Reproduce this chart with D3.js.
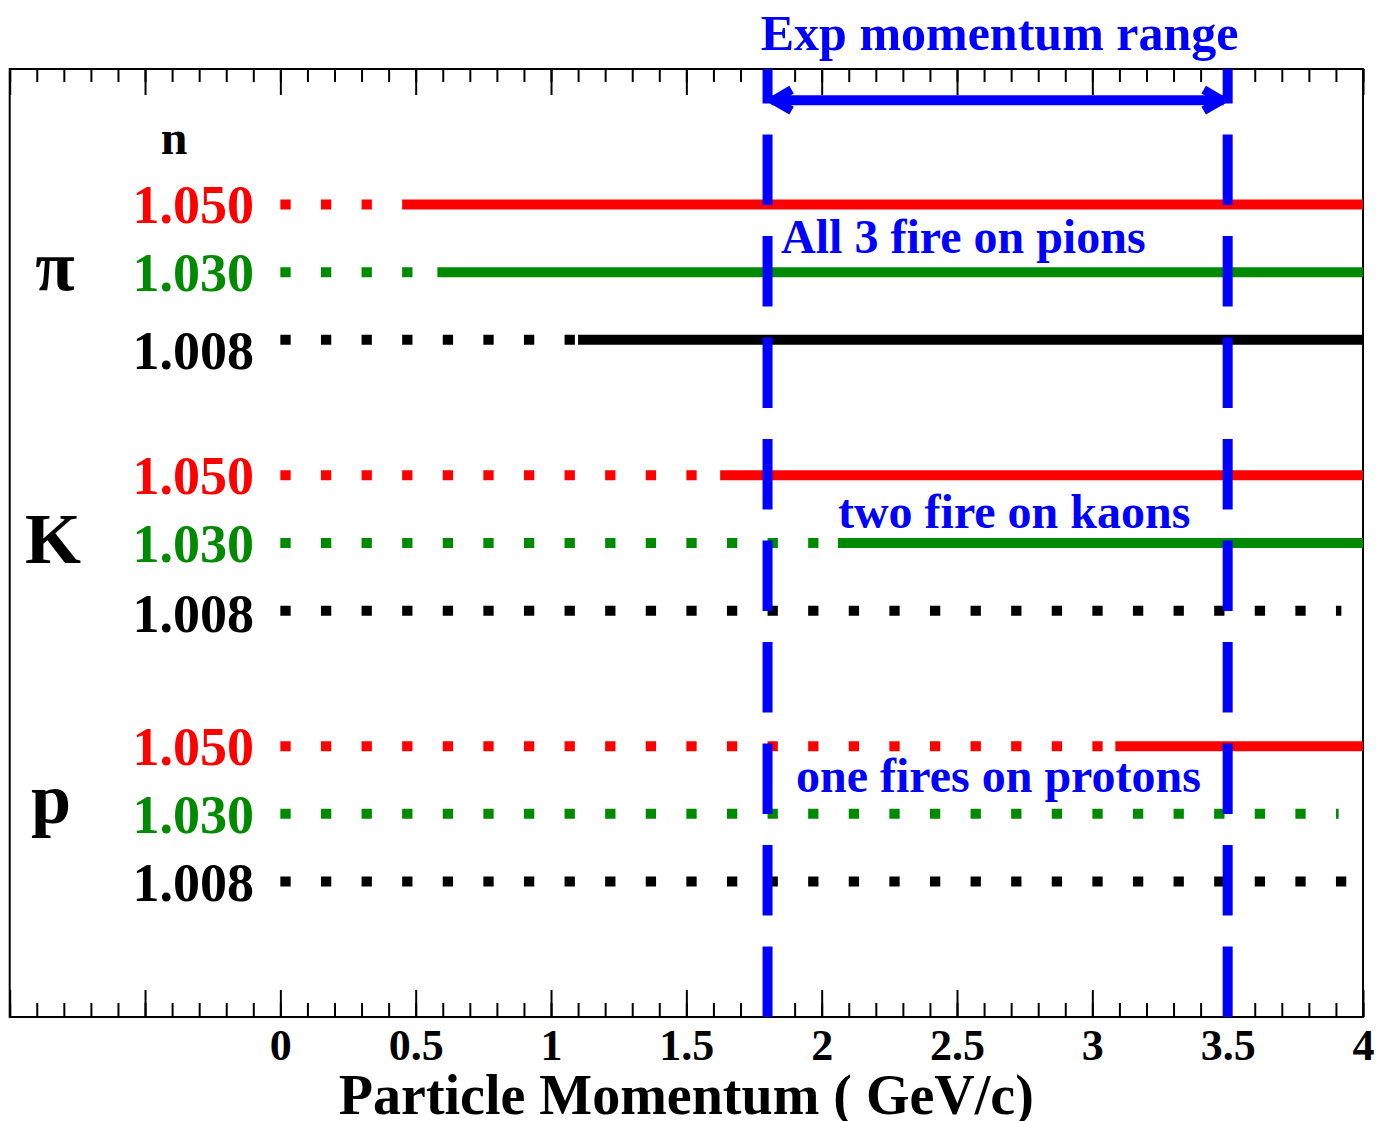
<!DOCTYPE html>
<html>
<head>
<meta charset="utf-8">
<script src="https://cdn.jsdelivr.net/npm/d3@7"></script>
<style>
  html, body { margin: 0; padding: 0; background: #fff; }
  svg { display: block; }
  text { font-family: "Liberation Serif", "Times New Roman", serif; font-weight: bold; }
</style>
</head>
<body>
<script>
// Cherenkov radiator thresholds for three refractive indices, per particle.
const particles = ["π", "K", "p"];
const indices = ["1.050", "1.030", "1.008"];
const indexColors = ["#ff0000", "#008a00", "#000000"];

// vertical level of each particle group's rows (n = 1.050, 1.030, 1.008)
const pionRows = [12, 11, 10];
const kaonRows = [8, 7, 6];
const protonRows = [4, 3, 2];

// momentum (GeV/c) where the radiator starts firing; null = never below 4 GeV/c
const pionOnset = [0.45, 0.58, 1.10];
const kaonOnset = [1.625, 2.06, null];
const protonOnset = [3.085, null, null];

// end of the below-threshold dotted trace when there is no onset
const kaonDotEnd = [null, null, 3.92];
const protonDotEnd = [null, 3.91, 3.95];

// experimental momentum range
const expRange = [1.8, 3.5];
const expArrowLevel = 13.54;

// annotations
const notes = [
  { text: "All 3 fire on pions", p: 1.85, level: 11.28 },
  { text: "two fire on kaons", p: 2.06, level: 7.22 },
  { text: "one fires on protons", p: 1.905, level: 3.33 }
];

// axis ticks
const majorTicks = [-1, -0.5, 0, 0.5, 1, 1.5, 2, 2.5, 3, 3.5, 4];
const tickLabels = ["0", "0.5", "1", "1.5", "2", "2.5", "3", "3.5", "4"];
const minorTicks = d3.range(-10, 41).map(d => d / 10);

const W = 1386, H = 1121;
const svg = d3.select("body").append("svg").attr("width", W).attr("height", H);

const x = d3.scaleLinear().domain([-1, 4]).range([9.7, 1363]);
const y = d3.scaleLinear().domain([0, 14]).range([1017, 69]);

// assemble rows
const groups = [
  { name: particles[0], rows: pionRows, onset: pionOnset, dotEnd: [null, null, null], labelShift: [0, 0, 10] },
  { name: particles[1], rows: kaonRows, onset: kaonOnset, dotEnd: kaonDotEnd, labelShift: [0, 0, 2] },
  { name: particles[2], rows: protonRows, onset: protonOnset, dotEnd: protonDotEnd, labelShift: [0, 0, 0] }
];
const rows = [];
groups.forEach(g => g.rows.forEach((lvl, i) => rows.push({
  level: lvl, label: indices[i], color: indexColors[i],
  onset: g.onset[i], dotEnd: g.dotEnd[i], shift: g.labelShift[i]
})));

// frame
svg.append("rect")
  .attr("x", x(-1)).attr("y", y(14))
  .attr("width", x(4) - x(-1)).attr("height", y(0) - y(14))
  .attr("fill", "none").attr("stroke", "#000").attr("stroke-width", 2);

// bottom axis: minor + major ticks pointing inward
const bottomAxis = svg.append("g").attr("transform", `translate(0,${y(0)})`);
bottomAxis.append("g").call(d3.axisBottom(x).tickValues(minorTicks).tickSize(-14).tickFormat(""))
  .call(g => g.select(".domain").remove());
bottomAxis.append("g").call(d3.axisBottom(x).tickValues(majorTicks).tickSize(-27)
    .tickFormat(d => d >= 0 ? tickLabels[Math.round(d * 2)] : ""))
  .call(g => g.select(".domain").remove())
  .call(g => g.selectAll("text").attr("y", 43).attr("dy", 0)
    .style("font-family", "'Liberation Serif', serif").style("font-weight", "bold")
    .style("font-size", "44px").attr("fill", "#000"));
bottomAxis.selectAll(".tick line").attr("stroke", "#000").attr("stroke-width", 2);

// top axis: ticks only
const topAxis = svg.append("g").attr("transform", `translate(0,${y(14)})`);
topAxis.append("g").call(d3.axisTop(x).tickValues(minorTicks).tickSize(-13).tickFormat(""))
  .call(g => g.select(".domain").remove());
topAxis.append("g").call(d3.axisTop(x).tickValues(majorTicks).tickSize(-26).tickFormat(""))
  .call(g => g.select(".domain").remove());
topAxis.selectAll(".tick line").attr("stroke", "#000").attr("stroke-width", 2);

// dotted traces (below threshold) and solid traces (above threshold)
const lines = svg.append("g");
rows.forEach(r => {
  const end = r.onset !== null ? r.onset : r.dotEnd;
  lines.append("line")
    .attr("x1", x(0)).attr("x2", x(end))
    .attr("y1", y(r.level)).attr("y2", y(r.level))
    .attr("stroke", r.color).attr("stroke-width", 10)
    .attr("stroke-dasharray", "10.3,30.3");
  if (r.onset !== null) {
    lines.append("line")
      .attr("x1", x(r.onset)).attr("x2", x(4))
      .attr("y1", y(r.level)).attr("y2", y(r.level))
      .attr("stroke", r.color).attr("stroke-width", 10);
  }
});

// refractive index labels
svg.append("text").attr("x", 174).attr("y", y(13) + 17)
  .attr("text-anchor", "middle").style("font-size", "48px").text("n");
rows.forEach(r => {
  svg.append("text").attr("x", 254).attr("y", y(r.level) + 19 + r.shift)
    .attr("text-anchor", "end").attr("fill", r.color)
    .style("font-size", "54px").text(r.label);
});

// particle labels
const particleOffsets = [{ x: 55, dy: 18 }, { x: 53, dy: 20 }, { x: 51, dy: 9 }];
groups.forEach((g, i) => {
  svg.append("text").attr("x", particleOffsets[i].x)
    .attr("y", y(g.rows[1]) + particleOffsets[i].dy)
    .attr("text-anchor", "middle").style("font-size", "72px").text(g.name);
});

// experimental range: dashed verticals drawn bottom to top
const blue = "#0000ff";
expRange.forEach(p => {
  svg.append("line")
    .attr("x1", x(p)).attr("x2", x(p))
    .attr("y1", y(0)).attr("y2", y(14))
    .attr("stroke", blue).attr("stroke-width", 10)
    .attr("stroke-dasharray", "70.5,31");
});

// double-headed range arrow
const ay = y(expArrowLevel);
svg.append("line")
  .attr("x1", x(expRange[0]) + 4).attr("x2", x(expRange[1]) - 4)
  .attr("y1", ay).attr("y2", ay)
  .attr("stroke", blue).attr("stroke-width", 10);
const head = 20, wing = 10.5;
svg.append("path")
  .attr("d", `M${x(expRange[0]) + head + 4},${ay - wing} L${x(expRange[0]) + 6},${ay} L${x(expRange[0]) + head + 4},${ay + wing}`)
  .attr("fill", "none").attr("stroke", blue).attr("stroke-width", 9).attr("stroke-linejoin", "miter");
svg.append("path")
  .attr("d", `M${x(expRange[1]) - head - 4},${ay - wing} L${x(expRange[1]) - 6},${ay} L${x(expRange[1]) - head - 4},${ay + wing}`)
  .attr("fill", "none").attr("stroke", blue).attr("stroke-width", 9).attr("stroke-linejoin", "miter");

svg.append("text")
  .attr("x", (x(expRange[0]) + x(expRange[1])) / 2 + 2).attr("y", 50)
  .attr("text-anchor", "middle").attr("fill", blue)
  .style("font-size", "50px").text("Exp momentum range");

// annotations
notes.forEach(n => {
  svg.append("text").attr("x", x(n.p)).attr("y", y(n.level))
    .attr("fill", blue).style("font-size", "48px").text(n.text);
});

// axis title
svg.append("text")
  .attr("x", (x(-1) + x(4)) / 2).attr("y", 1114)
  .attr("text-anchor", "middle").style("font-size", "56px")
  .text("Particle Momentum ( GeV/c)");
</script>
</body>
</html>
